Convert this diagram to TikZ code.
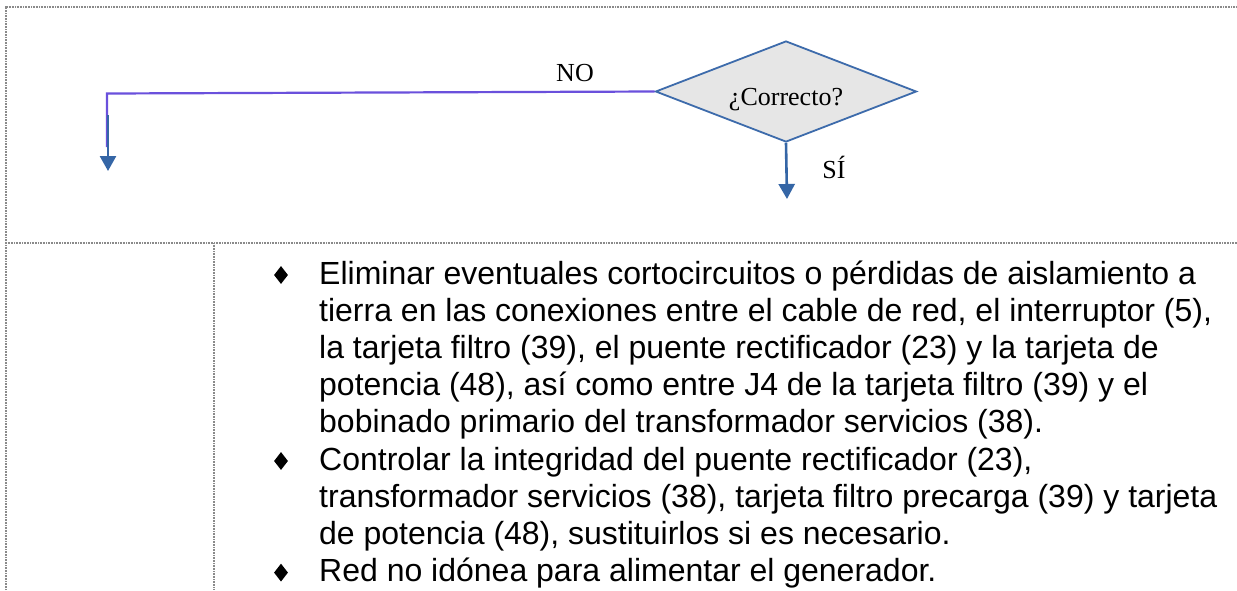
\documentclass[tikz,border=0pt]{standalone}
\usepackage{fontspec}
\setmainfont{Liberation Serif}
\newfontfamily\arialfont{Liberation Sans}
\usetikzlibrary{shapes.geometric,arrows.meta}
\definecolor{bordergray}{HTML}{8A8A8A}
\definecolor{nopurple}{HTML}{6A50DC}
\definecolor{arrowblue}{HTML}{3566A6}
\definecolor{diafill}{HTML}{E6E6E6}
\definecolor{diaborder}{HTML}{3D6BAB}
\begin{document}
\begin{tikzpicture}[x=1pt,y=-1pt,
  frameline/.style={bordergray, line width=1.2pt, dash pattern=on 1pt off 0.6pt},
  decision/.style={diamond, draw=diaborder, fill=diafill, line width=1.8pt, inner sep=0pt,
    minimum width=261pt, minimum height=101pt, aspect=2.58,
    font=\fontsize{26}{30}\selectfont},
  lbl/.style={font=\fontsize{26}{30}\selectfont, inner sep=0pt, anchor=base},
  bodyline/.style={anchor=base west, inner sep=0pt, font=\arialfont\fontsize{32}{36}\selectfont},
  bulletmark/.style={diamond, fill=black, inner sep=0pt, minimum width=14pt, minimum height=18pt},
  flowarrow/.style={arrowblue, line width=2.6pt, -{Triangle[length=15pt,width=16pt]}}
]
\useasboundingbox (0,0) rectangle (1237,590);
\fill[white] (0,0) rectangle (1237,590);
% frame
\draw[frameline] (6,590) -- (6,7) -- (1237,7);
\draw[frameline] (6,243) -- (1237,243);
\draw[frameline] (214,243) -- (214,590);
% decision
\node[decision] (dec) at (786,91.5) {\raisebox{-13.5pt}[0pt][0pt]{¿Correcto?}};
\node[lbl] (nolbl) at (575,81) {NO};
\node[lbl] (silbl) at (834,178) {SÍ};
\coordinate (nocorner) at (107,93.5);
\coordinate (noend) at (107,147);
\coordinate (nostart) at (108,115);
\coordinate (notip) at (108,171);
\coordinate (sitip) at (787,199);
\draw[nopurple, line width=2.2pt] (dec.west) -- (nocorner) -- (noend);
\draw[flowarrow] (nostart) -- (notip);
\draw[flowarrow] (dec.south) -- (sitip);
% bullets
\node[bulletmark] (b1) at (281,275) {};
\node[bulletmark] (b2) at (281,461) {};
\node[bulletmark] (b3) at (281,572.6) {};
% text lines
\node[bodyline] (t1) at (319,284) {Eliminar eventuales cortocircuitos o pérdidas de aislamiento a};
\node[bodyline] (t2) at (319,321.2) {tierra en las conexiones entre el cable de red, el interruptor (5),};
\node[bodyline] (t3) at (319,358.4) {la tarjeta filtro (39), el puente rectificador (23) y la tarjeta de};
\node[bodyline] (t4) at (319,395.6) {potencia (48), así como entre J4 de la tarjeta filtro (39) y el};
\node[bodyline] (t5) at (319,432.8) {bobinado primario del transformador servicios (38).};
\node[bodyline] (t6) at (319,470) {Controlar la integridad del puente rectificador (23),};
\node[bodyline] (t7) at (319,507.2) {transformador servicios (38), tarjeta filtro precarga (39) y tarjeta};
\node[bodyline] (t8) at (319,544.4) {de potencia (48), sustituirlos si es necesario.};
\node[bodyline] (t9) at (319,581.6) {Red no idónea para alimentar el generador.};
\end{tikzpicture}
\end{document}
